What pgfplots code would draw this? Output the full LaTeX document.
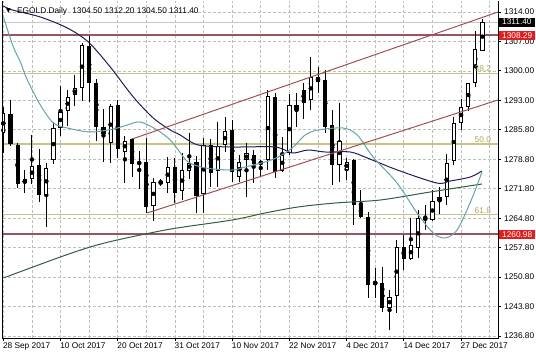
\documentclass[border=0pt]{standalone}
\usepackage{fontspec}
\setmainfont{Liberation Sans}
\newfontfamily\dejavu{DejaVu Sans}
\usepackage{pgfplots}
\pgfplotsset{compat=1.18}
\usepackage{pgfplotstable}

\definecolor{maline}{RGB}{30,30,90}
\definecolor{tealma}{RGB}{100,165,170}
\definecolor{greenma}{RGB}{45,95,65}
\definecolor{chan}{RGB}{160,80,85}
\definecolor{lvl}{RGB}{150,85,95}
\definecolor{fib}{RGB}{200,195,130}
\definecolor{fibtxt}{RGB}{175,165,85}
\definecolor{lblred}{RGB}{225,30,30}
\definecolor{gridc}{RGB}{190,190,190}

\pgfplotstableread{
i o h l c
0 1284.97 1291.15 1280.21 1289.72
1 1289.56 1292.89 1282.00 1282.43
2 1282.19 1282.59 1271.90 1272.93
3 1273.08 1276.25 1270.71 1274.04
4 1274.04 1284.57 1272.93 1277.20
5 1277.44 1281.17 1268.73 1270.31
6 1270.31 1277.84 1262.79 1276.81
7 1278.63 1287.74 1277.68 1286.16
8 1286.16 1296.22 1284.33 1290.12
9 1290.35 1295.27 1286.71 1293.68
10 1294.08 1298.83 1291.54 1295.66
11 1295.66 1306.35 1292.73 1305.96
12 1305.72 1308.10 1292.49 1296.85
13 1297.01 1297.80 1283.22 1286.55
14 1286.55 1290.67 1278.23 1284.81
15 1282.59 1291.94 1277.99 1291.46
16 1291.70 1292.89 1279.03 1281.17
17 1280.61 1284.33 1273.24 1283.22
18 1283.54 1283.78 1274.67 1277.60
19 1277.60 1280.85 1271.66 1278.23
20 1278.23 1283.78 1266.11 1267.38
21 1267.70 1274.27 1264.21 1273.48
22 1273.72 1274.04 1272.45 1272.93
23 1273.24 1279.42 1270.71 1277.05
24 1277.05 1279.03 1268.49 1270.87
25 1271.26 1280.21 1269.12 1276.25
26 1276.10 1284.97 1274.04 1278.00
27 1278.08 1279.58 1265.96 1270.08
28 1270.55 1283.78 1265.96 1282.19
29 1282.19 1283.62 1272.29 1275.62
30 1276.10 1287.74 1272.29 1281.96
31 1282.19 1288.77 1280.61 1285.52
32 1285.76 1288.14 1273.32 1275.86
33 1274.67 1279.82 1273.48 1278.23
34 1278.63 1282.59 1269.76 1280.21
35 1279.82 1281.01 1273.08 1277.60
36 1277.68 1278.63 1274.83 1278.23
37 1278.63 1295.27 1276.25 1293.84
38 1293.52 1294.63 1274.27 1275.86
39 1276.10 1284.18 1275.86 1279.82
40 1280.21 1294.31 1279.82 1291.70
41 1291.70 1294.63 1286.39 1290.51
42 1295.27 1297.01 1288.29 1292.25
43 1292.89 1303.19 1290.51 1298.43
44 1298.27 1300.81 1294.47 1297.25
45 1297.64 1300.02 1284.97 1286.55
46 1286.95 1290.51 1272.69 1277.44
47 1277.44 1292.25 1273.48 1283.22
48 1276.25 1279.02 1273.88 1278.23
49 1278.63 1278.79 1263.18 1267.93
50 1267.93 1271.50 1264.77 1265.16
51 1265.16 1266.35 1245.75 1248.92
52 1249.16 1252.88 1245.75 1249.72
53 1249.32 1253.28 1242.59 1243.38
54 1243.54 1247.74 1238.23 1246.15
55 1246.31 1259.62 1242.19 1257.88
56 1257.88 1260.80 1252.49 1255.02
57 1255.02 1264.77 1254.87 1258.43
58 1257.64 1266.75 1255.26 1264.77
59 1265.00 1267.93 1261.99 1264.37
60 1264.37 1271.50 1264.21 1268.88
61 1268.96 1272.29 1265.79 1269.76
62 1269.92 1280.05 1267.93 1277.99
63 1278.47 1288.93 1277.44 1287.34
64 1287.50 1293.05 1285.76 1291.14
65 1291.30 1296.85 1290.35 1296.85
66 1296.85 1309.36 1295.90 1304.93
67 1304.50 1312.20 1304.50 1311.40
}\candles

\tikzset{tl/.style={font=\fontsize{8.3bp}{9bp}\selectfont}}

\begin{document}
\begin{tikzpicture}
\useasboundingbox (-3bp,-19bp) rectangle (533bp,338bp);
\begin{axis}[
  at={(0,0)}, anchor=south west,
  scale only axis, width=495bp, height=337bp,
  xmin=-0.05, xmax=69.17, ymin=1236.33, ymax=1316.41,
  clip mode=individual,
  axis line style={draw=none},
  xtick={0,8,16,24,32,40,48,56,64},
  xticklabels={28 Sep 2017,10 Oct 2017,20 Oct 2017,31 Oct 2017,10 Nov 2017,22 Nov 2017,4 Dec 2017,14 Dec 2017,27 Dec 2017},
  minor xtick={4,12,20,28,36,44,52,60,68},
  ytick={1236.8,1243.8,1250.8,1257.8,1264.8,1271.8,1278.8,1285.8,1292.8,1299.8,1306.8,1313.8},
  yticklabels={1236.80,1243.80,1250.80,1257.80,1264.80,1271.80,1278.80,1285.80,1293.00,1300.00,1307.00,1314.00},
  xtick pos=left, ytick pos=right, yticklabel pos=right,
  tick align=outside, major tick length=3bp, minor tick length=0pt,
  tick style={black, line width=0.8bp},
  xmajorgrids, ymajorgrids, xminorgrids,
  major grid style={gridc, dash pattern=on 3bp off 2bp, line width=0.7bp},
  minor grid style={gridc, dash pattern=on 3bp off 2bp, line width=0.7bp},
  yticklabel style={tl, anchor=west, inner sep=0pt, xshift=3bp},
  xticklabel style={tl, anchor=north west, inner sep=0pt, xshift=-0.5bp, yshift=-2bp},
]
% horizontal levels
\addplot[fib, line width=1.1bp] coordinates {(-1,1299.25) (70,1299.25)};
\addplot[fib, line width=1.1bp] coordinates {(-1,1282.43) (70,1282.43)};
\addplot[fib, line width=1.1bp] coordinates {(-1,1265.60) (70,1265.60)};
\addplot[lvl, line width=1.6bp] coordinates {(-1,1308.29) (70,1308.29)};
\addplot[lvl, line width=1.6bp] coordinates {(-1,1260.98) (70,1260.98)};
\addplot[gray!45, line width=0.8bp] coordinates {(-1,1311.40) (70,1311.40)};
% wicks
\addplot[only marks, mark=none, error bars/.cd, y dir=both, y explicit, error mark=none,
  error bar style={black, line width=1bp}]
  table[x=i, y expr={(\thisrow{h}+\thisrow{l})/2}, y error expr={(\thisrow{h}-\thisrow{l})/2}] {\candles};
% bodies
\addplot[only marks, mark=none, error bars/.cd, y dir=both, y explicit, error mark=none,
  error bar style={black, line width=4.2bp}]
  table[x=i, y expr={(\thisrow{o}+\thisrow{c})/2}, y error expr={abs(\thisrow{c}-\thisrow{o})/2}] {\candles};
\addplot[only marks, mark=none, error bars/.cd, y dir=both, y explicit, error mark=none,
  error bar style={white, line width=2.2bp}]
  table[x=i, y expr={(\thisrow{o}+\thisrow{c})/2}, y error expr={(\thisrow{c}>\thisrow{o})*max(abs(\thisrow{c}-\thisrow{o})/2-0.2376,0)}] {\candles};
% moving averages
\addplot[greenma, line width=1bp, smooth] coordinates {(0,1250.59) (7.97,1255.58) (12.16,1257.96) (15.93,1259.62) (23.34,1262.2) (32.0,1264.37) (36.6,1266.03) (41.2,1267.46) (46.4,1268.41) (52.7,1269.12) (59.67,1271.02) (66.94,1272.93)};
\addplot[maline, line width=1bp, smooth] coordinates {(0,1315.23) (1.26,1314.28) (5.17,1312.61) (8.94,1310.0) (11.88,1306.67) (14.95,1300.73) (18.17,1293.6) (20.96,1288.61) (23.34,1285.76) (24.73,1284.57) (27.25,1282.19) (32.0,1281.72) (38.0,1281.72) (40.4,1280.29) (42.6,1281.0) (45.0,1280.53) (48.5,1280.53) (50.9,1279.1) (55.1,1276.25) (60.6,1273.16) (62.5,1273.64) (65.3,1274.59) (66.9,1276.0)};
\addplot[tealma, line width=1bp, smooth] coordinates {(0,1312.61) (1.4,1305.48) (2.38,1301.92) (3.35,1297.64) (5.17,1291.7) (7.0,1287.42) (8.94,1286.23) (12.16,1285.28) (15.37,1285.99) (17.33,1286.95) (19.14,1287.66) (21.52,1285.76) (23.34,1283.38) (24.46,1281.0) (25.85,1278.15) (28.23,1276.73) (32.0,1276.25) (33.82,1276.97) (36.6,1278.15) (38.43,1279.34) (40.39,1281.48) (42.2,1284.57) (44.0,1285.76) (47.5,1286.23) (49.5,1284.57) (51.7,1279.34) (55.06,1273.16) (57.85,1266.03) (60.1,1261.28) (61.77,1260.09) (63.44,1261.99) (65.26,1268.41) (66.94,1275.78)};
% channel
\addplot[chan, line width=1bp] coordinates {(18.03,1283.62) (69.17,1313.8)};
\addplot[chan, line width=1bp] coordinates {(20.1,1266.03) (69.17,1292.89)};
% fib labels
\node[tl, text=fibtxt, anchor=south east, inner sep=0pt] at (axis cs:68.2,1299.6) {38.2};
\node[tl, text=fibtxt, anchor=south east, inner sep=0pt] at (axis cs:68.2,1282.8) {50.0};
\node[tl, text=fibtxt, anchor=south east, inner sep=0pt] at (axis cs:68.2,1265.95) {61.8};
% frame
\draw[black, line width=1bp] (rel axis cs:0,1) -- (rel axis cs:0,0) -- (rel axis cs:1,0) -- (rel axis cs:1,1);
\coordinate (b1) at (axis cs:69.17,1311.40);
\coordinate (b2) at (axis cs:69.17,1308.29);
\coordinate (b3) at (axis cs:69.17,1260.98);
\end{axis}
\node[fill=black, text=white, anchor=west, inner xsep=3bp, inner ysep=1.5bp, xshift=1bp, tl] at (b1) {1311.40};
\node[fill=lblred, text=white, anchor=west, inner xsep=3bp, inner ysep=1.5bp, xshift=1bp, tl] at (b2) {1308.29};
\node[fill=lblred, text=white, anchor=west, inner xsep=3bp, inner ysep=1.5bp, xshift=1bp, tl] at (b3) {1260.98};
\node[anchor=base west, inner sep=0pt, font=\dejavu\fontsize{6bp}{7bp}\selectfont] at (3bp,325bp) {▼};
\node[anchor=base west, inner sep=0pt, tl] at (14bp,324.7bp) {EGOLD.Daily\hspace{3bp} 1304.50 1312.20 1304.50 1311.40};
\end{tikzpicture}
\end{document}
